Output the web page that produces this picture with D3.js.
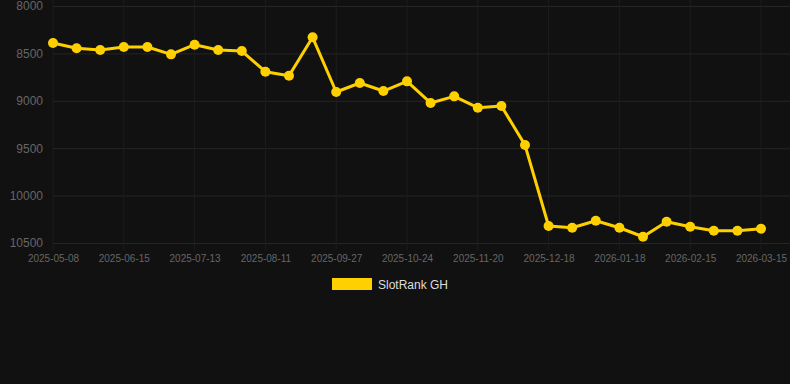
<!DOCTYPE html>
<html>
<head>
<meta charset="utf-8">
<script src="https://cdn.jsdelivr.net/npm/d3@7"></script>
<style>
  body { margin: 0; background: #111111; }
  svg { display: block; }
</style>
</head>
<body>
<div id="chart"></div>
<script>
  const dates = ["2025-05-08", "2025-05-20", "2025-06-01", "2025-06-15", "2025-06-24", "2025-07-04",
    "2025-07-13", "2025-07-22", "2025-08-01", "2025-08-11", "2025-08-25", "2025-09-10",
    "2025-09-27", "2025-10-06", "2025-10-15", "2025-10-24", "2025-11-02", "2025-11-11",
    "2025-11-20", "2025-11-29", "2025-12-08", "2025-12-18", "2025-12-28", "2026-01-08",
    "2026-01-18", "2026-01-28", "2026-02-06", "2026-02-15", "2026-02-25", "2026-03-06",
    "2026-03-15"]
  const ranks = [8390, 8446, 8464, 8433, 8433, 8510, 8408, 8464, 8475, 8693, 8735, 8330,
    8907, 8812, 8897, 8795, 9023, 8953, 9073, 9055, 9467, 10321, 10339, 10265,
    10339, 10434, 10276, 10328, 10370, 10370, 10350]
  const yTicks = [8000, 8500, 9000, 9500, 10000, 10500]
  const seriesName = "SlotRank GH"

  var W = 790, H = 384
  var margin = { top: 6, left: 53, right: 29, bottom: 141 }
  var width = W - margin.left - margin.right,
    height = H - margin.top - margin.bottom

  var svg = d3.select("#chart").append("svg")
    .attr("width", W)
    .attr("height", H)

  svg.append("rect").attr("width", W).attr("height", H).attr("fill", "#111111")

  var g = svg.append("g")
    .attr("transform", "translate(" + margin.left + "," + margin.top + ")")

  var x = d3.scalePoint()
    .domain(dates)
    .range([0, width])

  var y = d3.scaleLinear()
    .domain([8000, 10500])
    .range([0, height])

  var shown = dates.filter((d, i) => i % 3 === 0)

  // horizontal grid
  var yAxis = d3.axisLeft(y)
    .tickValues(yTicks)
    .tickFormat(d3.format("d"))
    .tickSize(-(W - margin.left))
    .tickPadding(10)

  var gy = g.append("g").call(yAxis)
  gy.select(".domain").remove()
  gy.selectAll("line").attr("stroke", "#252525")
  gy.selectAll("text")
    .attr("fill", "#666666")
    .attr("font-family", "Liberation Sans, Arial, sans-serif")
    .attr("font-size", "12px")

  // vertical grid + labels
  var xAxis = d3.axisBottom(x)
    .tickValues(shown)
    .tickSize(0)
    .tickPadding(12)

  var gx = g.append("g")
    .attr("transform", "translate(0," + height + ")")
    .call(xAxis)
  gx.select(".domain").remove()
  gx.selectAll("text")
    .attr("fill", "#666666")
    .attr("font-family", "Liberation Sans, Arial, sans-serif")
    .attr("font-size", "10px")

  g.selectAll(".vgrid")
    .data(shown)
    .enter().append("line")
    .attr("class", "vgrid")
    .attr("x1", d => x(d)).attr("x2", d => x(d))
    .attr("y1", -margin.top).attr("y2", height + 7)
    .attr("stroke", "#1d1d1d")

  var line = d3.line()
    .x((d, i) => x(dates[i]))
    .y(d => y(d))

  g.append("path")
    .datum(ranks)
    .attr("fill", "none")
    .attr("stroke", "#FFD000")
    .attr("stroke-width", 3)
    .attr("stroke-linejoin", "round")
    .attr("d", line)

  g.selectAll(".dot")
    .data(ranks)
    .enter().append("circle")
    .attr("class", "dot")
    .attr("cx", (d, i) => x(dates[i]))
    .attr("cy", d => y(d))
    .attr("r", 5)
    .attr("fill", "#FFD000")

  // legend
  var legend = svg.append("g").attr("transform", "translate(332,278)")
  legend.append("rect")
    .attr("width", 40).attr("height", 12)
    .attr("fill", "#FFD000")
  legend.append("text")
    .attr("x", 46).attr("y", 11)
    .attr("fill", "#dddddd")
    .attr("font-family", "Liberation Sans, Arial, sans-serif")
    .attr("font-size", "12px")
    .text(seriesName)
</script>
</body>
</html>
